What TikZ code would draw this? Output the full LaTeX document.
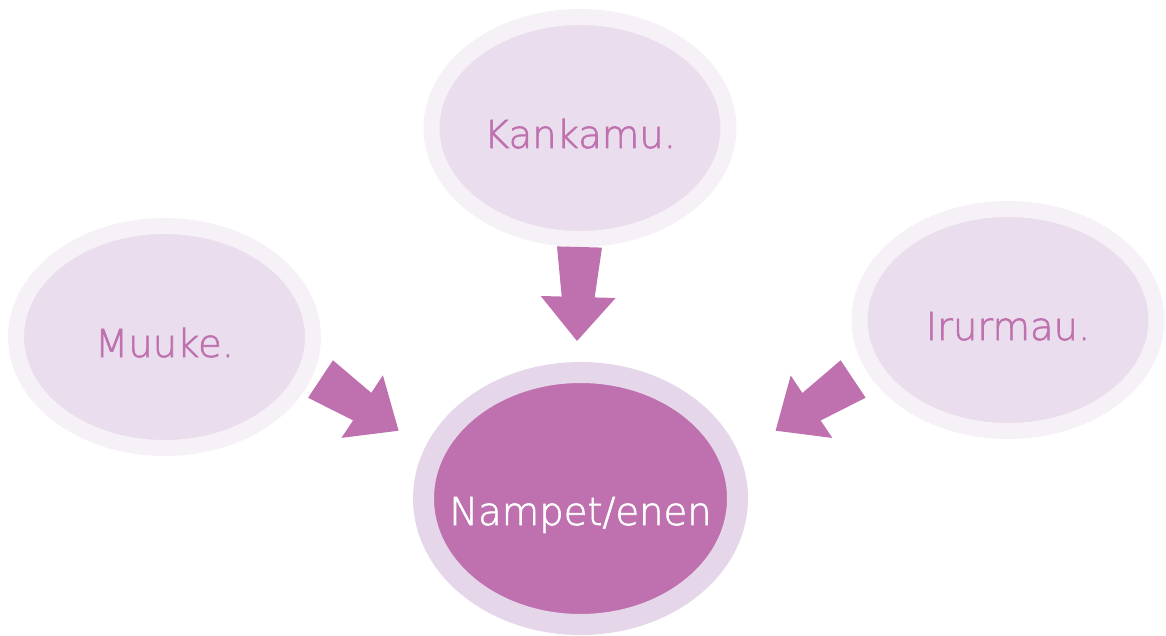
\documentclass[tikz,border=0pt]{standalone}
\usepackage{fontspec}
\setmainfont{DejaVu Sans ExtraLight}[FakeBold=1.6]
\usetikzlibrary{shapes.geometric,calc}

\definecolor{ringpale}{RGB}{246,240,247}
\definecolor{fillpale}{RGB}{234,221,237}
\definecolor{ringmid}{RGB}{229,214,233}
\definecolor{plum}{RGB}{190,113,174}

\tikzset{
  leaf/.style={ellipse, draw=ringpale, fill=fillpale, line width=16pt, inner sep=0pt,
    minimum width=297pt, minimum height=222pt, text=plum, text height=40pt, text depth=0pt,
    font=\fontsize{38.5}{40}\selectfont},
  hub/.style={ellipse, draw=ringmid, fill=plum, line width=21pt, inner ysep=0pt, inner xsep=-40pt,
    minimum width=314pt, minimum height=252pt, text=white, text height=53pt, text depth=0pt,
    font=\fontsize{38.5}{40}\selectfont},
  arrowfill/.style={fill=plum}
}

% block arrow from tail (#1) to tip (#2)
\newcommand{\blockarrow}[2]{%
  \fill[arrowfill] ($(#1)!22.5pt!90:(#2)$) -- ($(#1)!50pt!(#2)!16.5pt!90:(#2)$)
    -- ($(#1)!50pt!(#2)!37.5pt!90:(#2)$) -- (#2)
    -- ($(#1)!50pt!(#2)!37.5pt!-90:(#2)$) -- ($(#1)!50pt!(#2)!16.5pt!-90:(#2)$)
    -- ($(#1)!22.5pt!-90:(#2)$) -- cycle;}

\begin{document}
\begin{tikzpicture}[x=1pt,y=-1pt]

\useasboundingbox (0,0) rectangle (1166,636);

\node [leaf] (kankamu) at (580,128) {Kankamu.};
\node [leaf] (muuke) at (164.5,337) {Muuke.};
\node [leaf] (irurmau) at (1008,320) {Irurmau.};
\node [hub] (nampet) at (580.5,498.5) {Nampet/enen};

\coordinate (kankamu-tail) at (579.5,247);
\coordinate (kankamu-tip) at (577,341);
\coordinate (muuke-tail) at (320.5,379);
\coordinate (muuke-tip) at (398.6,430.7);
\coordinate (irurmau-tail) at (853.1,379);
\coordinate (irurmau-tip) at (775.6,430.7);

\foreach \src in {kankamu, muuke, irurmau}
{
	\blockarrow{\src-tail}{\src-tip}
}

\end{tikzpicture}
\end{document}
